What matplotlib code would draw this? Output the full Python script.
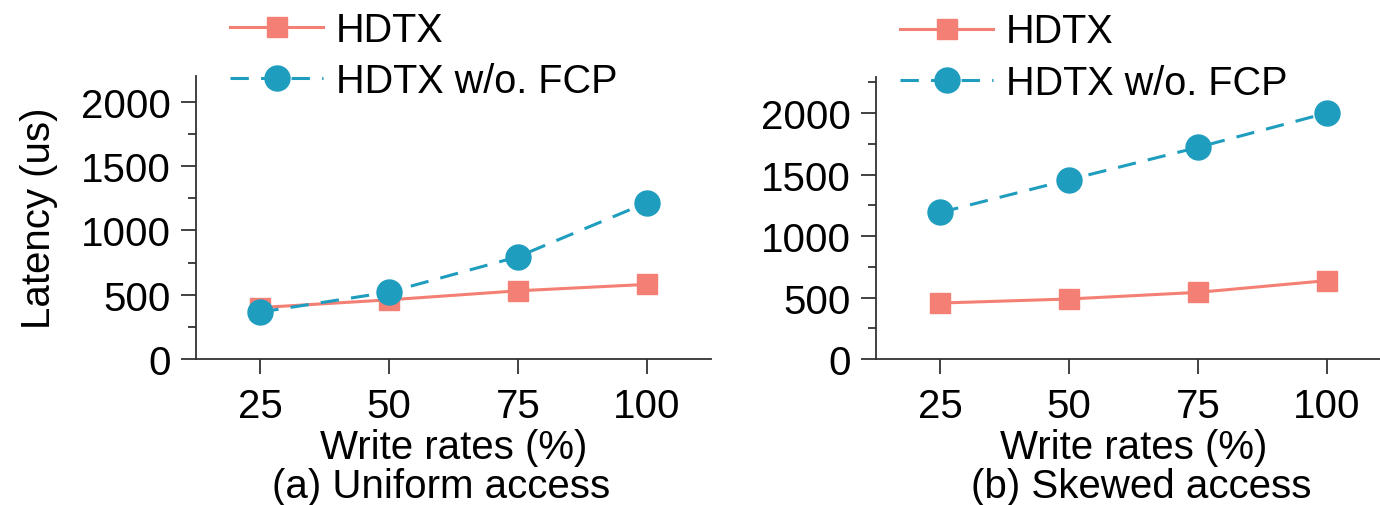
import matplotlib
matplotlib.use("Agg")
import matplotlib.pyplot as plt
from matplotlib.ticker import MultipleLocator

plt.rcParams["font.family"] = ["Liberation Sans", "DejaVu Sans"]

write_rates = [25, 50, 75, 100]

# uniform access
uni_hdtx = [400, 460, 530, 580]
uni_nofcp = [365, 520, 795, 1215]

# skewed access
skew_hdtx = [455, 488, 542, 637]
skew_nofcp = [1192, 1458, 1721, 2000]

RED = "#F47F74"
BLUE = "#1F9DBF"
AX_COL = "#333333"
FS = 29

fig = plt.figure(figsize=(13.8, 5.06), dpi=100)
W, H = 1380, 506


def make_ax(x0, x1, ytop, ymax):
    ax = fig.add_axes([x0 / W, (H - 360) / H, (x1 - x0) / W, (360 - ytop) / H])
    ax.set_xlim(12.5, 112.5)
    ax.set_ylim(0, ymax)
    for s in ("top", "right"):
        ax.spines[s].set_visible(False)
    for s in ("left", "bottom"):
        ax.spines[s].set_color(AX_COL)
        ax.spines[s].set_linewidth(1.3)
    ax.set_xticks(write_rates)
    ax.yaxis.set_major_locator(MultipleLocator(500))
    ax.yaxis.set_minor_locator(MultipleLocator(250))
    ax.tick_params(axis="both", which="major", length=11, width=1.3,
                   color=AX_COL, labelsize=FS)
    ax.tick_params(axis="y", which="minor", length=6, width=1.3, color=AX_COL)
    ax.tick_params(axis="y", which="major", pad=7)
    ax.tick_params(axis="x", which="major", pad=9)
    return ax


def draw(ax, hdtx, nofcp):
    ax.plot(write_rates, hdtx, color=RED, lw=2.2, marker="s", ms=15,
            label="HDTX", zorder=3)
    ax.plot(write_rates, nofcp, color=BLUE, lw=2.2, marker="o", ms=18,
            dashes=(6, 4), label="HDTX w/o. FCP", zorder=4)


ax1 = make_ax(196, 711, 77, 2200)
draw(ax1, uni_hdtx, uni_nofcp)
ax1.set_ylabel("Latency (us)", fontsize=FS)
ax1.yaxis.set_label_coords(-138 / 515, 0.5)

ax2 = make_ax(876, 1391, 78, 2293)
draw(ax2, skew_hdtx, skew_nofcp)

for ax, cap, cx in [(ax1, "(a) Uniform access", 0.476),
                    (ax2, "(b) Skewed access", 0.515)]:
    ax.set_xlabel("Write rates (%)", fontsize=FS)
    ax.xaxis.set_label_coords(0.5, -0.245)
    ax.text(cx, -(487 - 360) / 283, cap, transform=ax.transAxes, ha="center",
            va="center", fontsize=FS)

leg_kw = dict(loc="center left", frameon=False, fontsize=28.5,
              handlelength=2.35, handletextpad=0.32, labelspacing=0.33,
              borderaxespad=0, borderpad=0)
ax1.legend(bbox_to_anchor=(34 / 515, 1.074), **leg_kw)
ax2.legend(bbox_to_anchor=(24 / 515, 1.071), **leg_kw)

fig.savefig("out.png", dpi=100)
